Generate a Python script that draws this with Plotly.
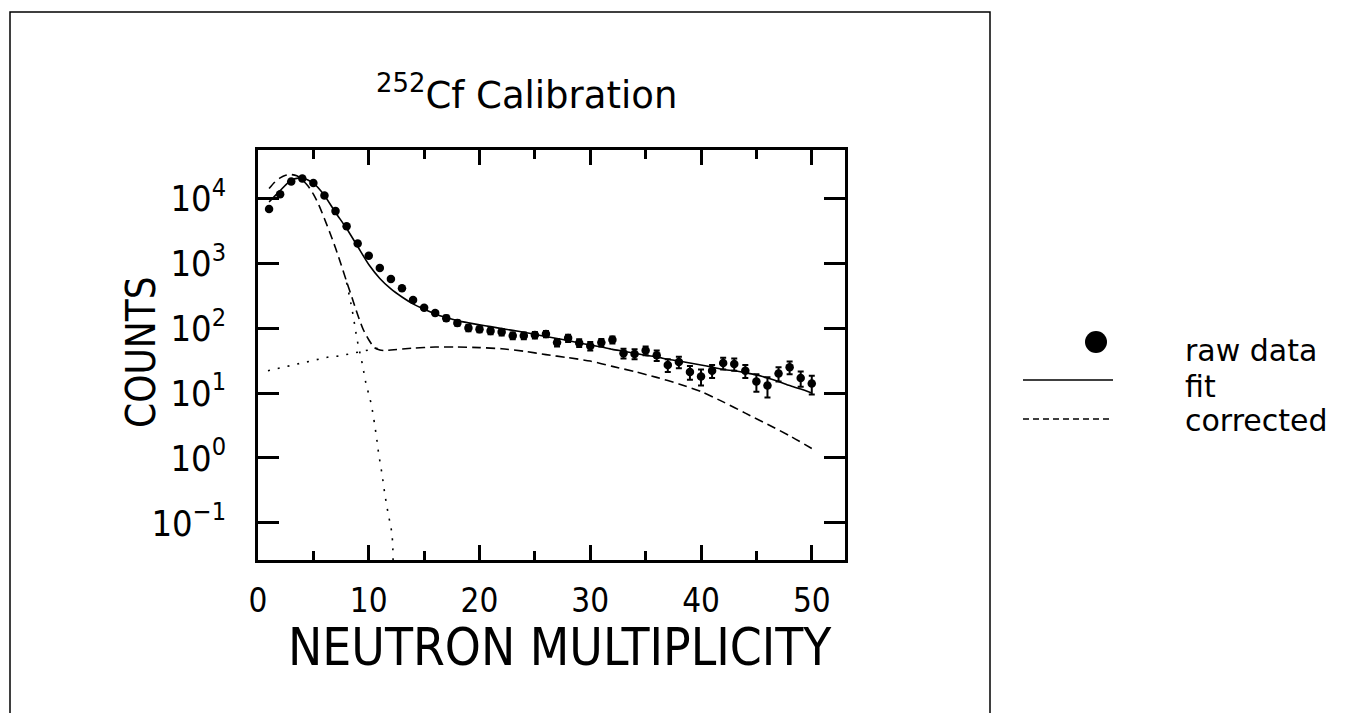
import plotly.graph_objects as go

# ---------------- data ----------------
raw_n = list(range(1, 51))
raw_counts = [6800, 11500, 18000, 20000, 17000, 11000, 6300, 3700, 2000, 1300,
              840, 570, 410, 270, 205, 170, 142, 120, 100, 96,
              90, 87, 76, 76, 78, 81, 60, 70, 59, 53,
              60, 66, 41, 40, 45, 38, 27, 30, 21, 18,
              22, 29, 28, 22, 15, 13, 20, 25, 17, 14]
raw_err = [80, 110, 130, 140, 130, 105, 80, 60, 45, 36,
           29, 24, 20, 16, 14, 13, 14, 12, 11, 10,
           10, 10, 9, 9, 9, 9, 8, 9, 8, 8,
           8, 8, 7, 7, 7, 7, 6, 6, 5, 5,
           5, 6, 6, 5, 4.5, 4.5, 5, 5.5, 4.5, 4.5]

fit_n = list(range(1, 51))
fit_counts = [8700, 13000, 19000, 20500, 17000, 11000, 6000, 3400, 1800, 950,
              580, 400, 300, 235, 195, 165, 145, 130, 120, 112,
              105, 98, 92, 86, 80, 74, 69, 64, 59, 55,
              51, 47, 44, 41, 38, 36, 33, 31, 29, 27,
              25, 23, 22, 20.5, 19, 17, 15, 13, 11.5, 10]

corr_n = [1, 1.5, 2, 2.5, 3, 3.5, 4, 4.5, 5, 5.5, 6, 6.5, 7, 7.5, 8, 8.5, 9, 9.5,
          10, 10.5, 11, 11.5, 12, 14, 16, 18, 20, 22, 24, 26, 28, 30, 32, 34, 36,
          38, 40, 42, 44, 46, 48, 50]
corr_counts = [14000, 17500, 20500, 22500, 23000, 22000, 19000, 15500, 11500, 7800,
               4800, 2900, 1700, 950, 520, 290, 160, 95, 66, 50, 46, 45, 46, 49,
               51, 51, 50, 48, 44, 39, 35, 31, 25.7, 21.4, 17.4, 13.8, 10.5, 7.3, 4.9,
               3.3, 2.2, 1.4]

# dotted components of the corrected spectrum
gauss_n = [8.0, 8.5, 9.0, 9.4, 9.75, 10.2, 10.65, 10.9, 11.2, 11.45, 11.75, 12.1, 12.2]
gauss_counts = [500, 190, 60, 29, 14, 7, 2.4, 1.15, 0.56, 0.28, 0.14, 0.066, 0.02]
broad_n = [0.9, 1.9, 2.8, 3.7, 4.6, 5.5, 6.4, 7.3, 8.2, 9.2, 10.1, 10.8]
broad_counts = [22, 24, 26, 28, 30, 33, 36, 37, 40, 43, 47, 49]

x_ticks = [0, 10, 20, 30, 40, 50]
y_ticks = [0.1, 1, 10, 100, 1000, 10000]
y_ticktext = ["10<sup>\u22121</sup>", "10<sup>0</sup>", "10<sup>1</sup>",
              "10<sup>2</sup>", "10<sup>3</sup>", "10<sup>4</sup>"]
legend_labels = ["raw data", "fit", "corrected"]

FONT = "Liberation Sans Narrow, DejaVu Sans Condensed, Liberation Sans, Arial, sans-serif"
FONT_W = "DejaVu Sans, Liberation Sans, Arial, sans-serif"

# page body adds an 8px offset; plot area is 587 x 410 px at (258,150)
OFF = 8
L, T, PW, PH = 258 - OFF, 150 - OFF, 587, 410
W, H = 1347 - OFF, 713 - OFF

# ---------------- figure ----------------
fig = go.Figure()

fig.add_trace(go.Scatter(x=broad_n, y=broad_counts, mode="lines",
                         line=dict(color="black", width=1.6, dash="2px,8px"),
                         showlegend=False, hoverinfo="skip"))
fig.add_trace(go.Scatter(x=gauss_n, y=gauss_counts, mode="lines",
                         line=dict(color="black", width=1.6, dash="2px,8px", shape="spline"),
                         showlegend=False, hoverinfo="skip"))
fig.add_trace(go.Scatter(x=corr_n, y=corr_counts, mode="lines", name=legend_labels[2],
                         line=dict(color="black", width=1.6, dash="9px,5px", shape="spline",
                                   smoothing=0.6),
                         showlegend=False))
fig.add_trace(go.Scatter(x=fit_n, y=fit_counts, mode="lines", name=legend_labels[1],
                         line=dict(color="black", width=1.6, shape="spline", smoothing=0.6),
                         showlegend=False))
fig.add_trace(go.Scatter(x=raw_n, y=raw_counts, mode="markers", name=legend_labels[0],
                         marker=dict(color="black", size=8.5, symbol="circle"),
                         error_y=dict(type="data", array=raw_err, visible=True,
                                      color="black", thickness=2, width=3),
                         showlegend=False))

axis_common = dict(showline=True, linecolor="black", linewidth=2.5, mirror="allticks",
                   ticks="inside", tickcolor="black", tickwidth=2.5,
                   showgrid=False, zeroline=False)

fig.update_xaxes(range=[0, 53], tickvals=x_ticks, ticklen=15,
                 minor=dict(dtick=5, tick0=0, ticks="inside", ticklen=9,
                            tickwidth=2.5, tickcolor="black", showgrid=False),
                 tickfont=dict(family=FONT, size=33, color="black"),
                 ticklabelstandoff=10, **axis_common)
fig.update_yaxes(type="log", range=[-1.57, 4.74], tickvals=y_ticks, ticktext=y_ticktext,
                 ticklen=21, tickfont=dict(family=FONT, size=36, color="black"),
                 ticklabelstandoff=22, **axis_common)


def px_x(p):
    return (p - 258) / float(PW)


def px_y(p):
    return (560 - p) / float(PH)


annotations = [
    dict(text="<sup>252</sup>Cf Calibration", x=px_x(526), y=px_y(92), xref="paper",
         yref="paper", showarrow=False, font=dict(family=FONT_W, size=37, color="black"),
         xanchor="center", yanchor="middle"),
    dict(text="NEUTRON MULTIPLICITY", x=px_x(560), y=px_y(647), xref="paper", yref="paper",
         showarrow=False, font=dict(family=FONT, size=51, color="black"),
         xanchor="center", yanchor="middle"),
    dict(text="COUNTS", x=px_x(141), y=px_y(352), xref="paper", yref="paper", textangle=-90,
         showarrow=False, font=dict(family=FONT, size=40, color="black"),
         xanchor="center", yanchor="middle"),
]

leg_text_y = [350, 386, 421]
for lab, yy in zip(legend_labels, leg_text_y):
    annotations.append(dict(text=lab, x=px_x(1183), y=px_y(yy), xref="paper", yref="paper",
                            showarrow=False, xanchor="left", yanchor="middle",
                            font=dict(family=FONT_W, size=30, color="black")))

shapes = [
    # outer frame
    dict(type="rect", xref="paper", yref="paper", x0=px_x(10), x1=px_x(990),
         y0=px_y(730), y1=px_y(12), line=dict(color="black", width=1.5)),
    # legend keys
    dict(type="circle", xref="paper", yref="paper", xsizemode="pixel", ysizemode="pixel",
         xanchor=px_x(1096), yanchor=px_y(342), x0=-11, x1=11, y0=-11, y1=11,
         fillcolor="black", line=dict(color="black", width=0)),
    dict(type="line", xref="paper", yref="paper", x0=px_x(1023), x1=px_x(1113),
         y0=px_y(380), y1=px_y(380), line=dict(color="black", width=1.6)),
    dict(type="line", xref="paper", yref="paper", x0=px_x(1023), x1=px_x(1113),
         y0=px_y(419), y1=px_y(419), line=dict(color="black", width=1.4, dash="6px,4px")),
]

fig.update_layout(width=W, height=H,
                  margin=dict(l=L, r=W - L - PW, t=T, b=H - T - PH, pad=0),
                  paper_bgcolor="white", plot_bgcolor="white",
                  showlegend=False, annotations=annotations, shapes=shapes)

fig.write_html("out.html")
